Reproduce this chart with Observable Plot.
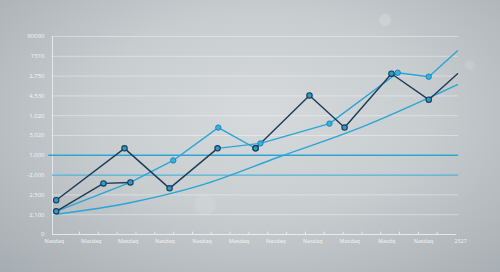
<!DOCTYPE html>
<html>
<head>
<meta charset="utf-8">
<script src="https://cdn.jsdelivr.net/npm/d3@7"></script>
<script src="https://cdn.jsdelivr.net/npm/@observablehq/plot@0.6"></script>
<style>
  html, body { margin: 0; padding: 0; }
  body {
    width: 500px; height: 272px; overflow: hidden;
    background:
      radial-gradient(circle at 385px 20px, rgba(255,255,255,0.18) 0, rgba(255,255,255,0.18) 5px, rgba(255,255,255,0) 7px),
      radial-gradient(circle at 470px 65px, rgba(255,255,255,0.12) 0, rgba(255,255,255,0.12) 4px, rgba(255,255,255,0) 6px),
      radial-gradient(circle at 205px 205px, rgba(255,255,255,0.10) 0, rgba(255,255,255,0.10) 9px, rgba(255,255,255,0) 12px),
      radial-gradient(ellipse at 52% 42%, #d6dadc 0%, #c8cdd0 45%, #b2b8bc 80%, #a6adb2 100%);
    font-family: "Open Sans", "Noto Sans", sans-serif;
  }
  #chart svg { display: block; background: transparent; }
  #chart svg text { fill: #f3f6f8; }
</style>
</head>
<body>
<div id="chart"></div>
<script>
// Tick labels
const xLabels = ["Nasdaq","Masdaq","Masdaq","Nasdaq","Nasdaq","Masdaq","Nasdaq","Nasdaq","Masdaq","Masdq","Nasdaq","2327"];
const yLabels = ["0","2,100","2,500","-2,000","1,000","3,020","1,020","4,530","2,750","7310","90090"];

// Series (x in label-index units, y in tick-index units), with dot flags
const navyAx = [0.05, 1.90, 3.12, 4.42];
const navyAy = [1.73, 4.35, 2.33, 4.35];
const navyAdot = [1, 1, 1, 1];

const navyBx = [0.05, 1.33, 2.06];
const navyBy = [1.17, 2.58, 2.63];
const navyBdot = [1, 1, 1];

const lightAx = [0.05, 2.06, 3.22, 4.44, 5.45];
const lightAy = [1.17, 2.63, 3.74, 5.40, 4.35];
const lightAdot = [0, 0, 1, 1, 0];

const midAx = [4.42, 5.58, 7.45, 9.30, 10.14, 10.92];
const midAy = [4.35, 4.60, 5.60, 8.17, 7.97, 9.28];
const midAdot = [0, 1, 1, 1, 1, 0];

const navyCx = [5.45, 6.91, 7.86, 9.13, 10.14, 10.92];
const navyCy = [4.35, 7.02, 5.40, 8.12, 6.81, 8.12];
const navyCdot = [1, 1, 1, 1, 1, 0];

const trendX = [0.05, 1.98, 3.96, 6.12, 8.29, 10.92];
const trendY = [1.02, 1.58, 2.48, 3.94, 5.40, 7.57];

const refLines = [4, 3];

const toRows = (xs, ys, dots) => xs.map((x, i) => ({x, y: ys[i], dot: dots ? dots[i] : 0}));
const navyA = toRows(navyAx, navyAy, navyAdot);
const navyB = toRows(navyBx, navyBy, navyBdot);
const lightA = toRows(lightAx, lightAy, lightAdot);
const midA = toRows(midAx, midAy, midAdot);
const navyC = toRows(navyCx, navyCy, navyCdot);
const trend = toRows(trendX, trendY);

const NAVY = "#1c3b55";
const BLUE = "#2aa5d6";
const xEnd = 10.95;

const chart = Plot.plot({
  width: 500,
  height: 272,
  marginLeft: 52,
  marginRight: 40,
  marginTop: 36,
  marginBottom: 38,
  style: {background: "transparent", fontFamily: "Open Sans, Noto Sans, sans-serif"},
  x: {domain: [-0.05, 11], axis: null, label: null},
  y: {domain: [0, 10], axis: null, label: null},
  marks: [
    // grid
    Plot.ruleY(d3.range(1, 11), {x1: -0.05, x2: xEnd, stroke: "#ffffff", strokeOpacity: 0.38, strokeWidth: 1}),
    // axes lines
    Plot.ruleX([-0.05], {y1: 0, y2: 10, stroke: "#ffffff", strokeOpacity: 0.6}),
    Plot.ruleY([0], {x1: -0.05, x2: 10.9, stroke: "#ffffff", strokeOpacity: 0.65}),
    Plot.ruleX(d3.range(0.68, 10.8, 0.51), {y1: 0, y2: 0.12, stroke: "#ffffff", strokeOpacity: 0.65}),
    // reference lines
    Plot.ruleY(refLines.slice(0, 1), {x1: -0.15, x2: xEnd, stroke: BLUE, strokeWidth: 1.5}),
    Plot.ruleY(refLines.slice(1), {x1: -0.05, x2: xEnd, stroke: BLUE, strokeWidth: 1.2, strokeOpacity: 0.8}),
    // trend
    Plot.line(trend, {x: "x", y: "y", stroke: BLUE, strokeWidth: 1.4, curve: "monotone-x"}),
    // series lines
    Plot.line(lightA, {x: "x", y: "y", stroke: BLUE, strokeWidth: 1.4}),
    Plot.line(midA, {x: "x", y: "y", stroke: BLUE, strokeWidth: 1.4}),
    Plot.line(navyA, {x: "x", y: "y", stroke: NAVY, strokeWidth: 1.4}),
    Plot.line(navyB, {x: "x", y: "y", stroke: NAVY, strokeWidth: 1.4}),
    Plot.line(navyC, {x: "x", y: "y", stroke: NAVY, strokeWidth: 1.4}),
    // dots
    Plot.dot(lightA.filter(d => d.dot), {x: "x", y: "y", r: 2.7, fill: "#36b2e2", stroke: "#1b86b6", strokeWidth: 1}),
    Plot.dot(midA.filter(d => d.dot), {x: "x", y: "y", r: 2.7, fill: "#36b2e2", stroke: "#1b86b6", strokeWidth: 1}),
    Plot.dot(navyA.filter(d => d.dot), {x: "x", y: "y", r: 2.7, fill: "#2a9dcc", stroke: NAVY, strokeWidth: 1.1}),
    Plot.dot(navyB.filter(d => d.dot), {x: "x", y: "y", r: 2.7, fill: "#2a9dcc", stroke: NAVY, strokeWidth: 1.1}),
    Plot.dot(navyC.filter(d => d.dot), {x: "x", y: "y", r: 2.7, fill: "#2a9dcc", stroke: NAVY, strokeWidth: 1.1}),
    Plot.dot(lightA.filter((d, i) => i === lightA.length - 1), {x: "x", y: "y", r: 2.7, fill: "#2a9dcc", stroke: NAVY, strokeWidth: 1.1}),
    // axes text
    Plot.axisY(d3.range(0, 11), {tickFormat: i => yLabels[i], tickSize: 0, tickPadding: 8, fontSize: 6, fill: "#f3f6f8", label: null}),
    Plot.axisX(d3.range(0, 12), {tickFormat: i => xLabels[i], tickSize: 0, tickPadding: 5, fontSize: 5.5, fill: "#f3f6f8", label: null})
  ]
});
document.getElementById("chart").appendChild(chart);
</script>
</body>
</html>
